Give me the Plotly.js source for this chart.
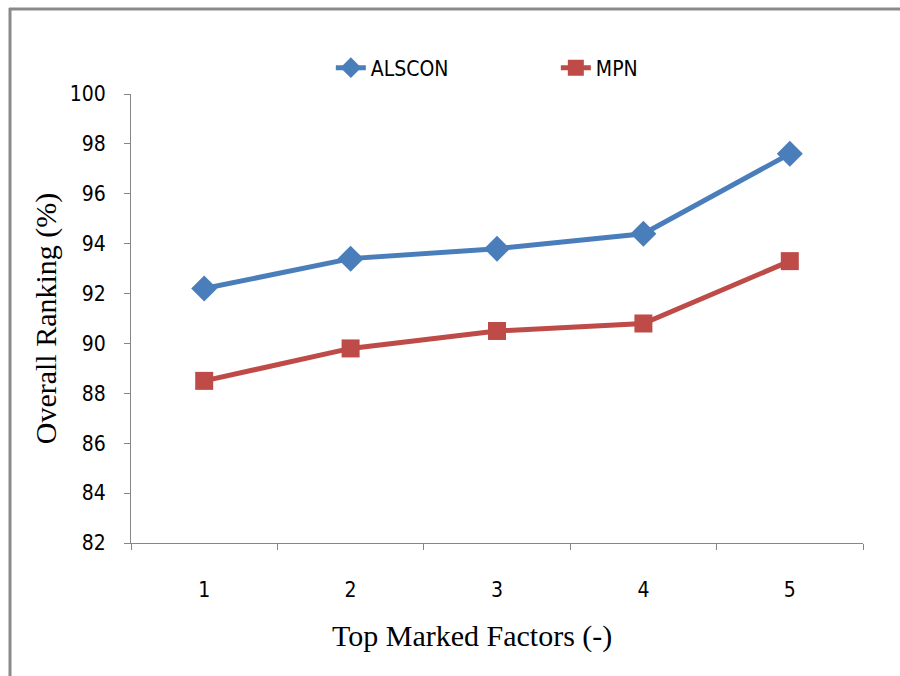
<!DOCTYPE html>
<html>
<head>
<meta charset="utf-8">
<script src="https://cdn.plot.ly/plotly-3.0.1.min.js"></script>
<style>html,body{margin:0;padding:0;background:#fff;} #chart{width:900px;height:676px;}</style>
</head>
<body>
<div id="chart"></div>
<script>
const categories = ['1', '2', '3', '4', '5'];
const alsconValues = [92.2, 93.4, 93.8, 94.4, 97.6];
const mpnValues = [88.5, 89.8, 90.5, 90.8, 93.3];
const seriesNames = ['ALSCON', 'MPN'];
const yTickValues = [82, 84, 86, 88, 90, 92, 94, 96, 98, 100];

const tickFont = {family: '"DejaVu Sans Condensed", "Liberation Sans Narrow", Arial, sans-serif', size: 21, color: '#000'};
const titleFont = {family: '"Liberation Serif", "Times New Roman", serif', size: 30, color: '#000'};

const traces = [
  {
    x: categories, y: alsconValues, name: seriesNames[0], type: 'scatter', mode: 'lines+markers',
    line: {color: '#4A7EBB', width: 5},
    marker: {symbol: 'diamond', size: 20, color: '#4A7EBB'}
  },
  {
    x: categories, y: mpnValues, name: seriesNames[1], type: 'scatter', mode: 'lines+markers',
    line: {color: '#BE4B48', width: 5},
    marker: {symbol: 'square', size: 18, color: '#BE4B48'}
  }
];

const layout = {
  width: 900, height: 676,
  margin: {l: 131, r: 37, t: 94, b: 133},
  paper_bgcolor: '#fff', plot_bgcolor: '#fff',
  showlegend: true,
  legend: {
    orientation: 'h', x: 0.273, y: 1 + (94 - 68) / 449, yref: 'paper', xanchor: 'left', yanchor: 'middle',
    font: tickFont, entrywidth: 180, entrywidthmode: 'pixels', itemwidth: 30
  },
  xaxis: {
    type: 'category', range: [-0.5, 4.5],
    showline: true, linecolor: '#868686', linewidth: 1,
    showgrid: false, zeroline: false,
    ticks: 'outside', tickson: 'boundaries', ticklen: 6, tickcolor: '#868686',
    tickfont: tickFont, ticklabelstandoff: 28
  },
  yaxis: {
    range: [82, 100], tickvals: yTickValues,
    showline: true, linecolor: '#868686', linewidth: 1,
    showgrid: false, zeroline: false,
    ticks: 'outside', ticklen: 6, tickcolor: '#868686',
    tickfont: tickFont, ticklabelstandoff: 14,
    title: {text: 'Overall Ranking (%)', font: titleFont, standoff: 4}
  },
  annotations: [
    {text: 'Top Marked Factors (-)', xref: 'paper', yref: 'paper',
     x: (472 - 131) / 732, y: (543 - 636) / 449, xanchor: 'center', yanchor: 'middle',
     showarrow: false, font: titleFont}
  ],
  shapes: [
    {type: 'line', xref: 'paper', yref: 'paper', x0: (9 - 131) / 732, x1: (900 - 131) / 732,
     y0: (543 - 9) / 449, y1: (543 - 9) / 449, line: {color: '#8a8a8a', width: 3}},
    {type: 'line', xref: 'paper', yref: 'paper', x0: (10 - 131) / 732, x1: (10 - 131) / 732,
     y0: (543 - 8) / 449, y1: (543 - 676) / 449, line: {color: '#8a8a8a', width: 3}}
  ]
};

Plotly.newPlot('chart', traces, layout, {displayModeBar: false, staticPlot: true});
</script>
</body>
</html>
